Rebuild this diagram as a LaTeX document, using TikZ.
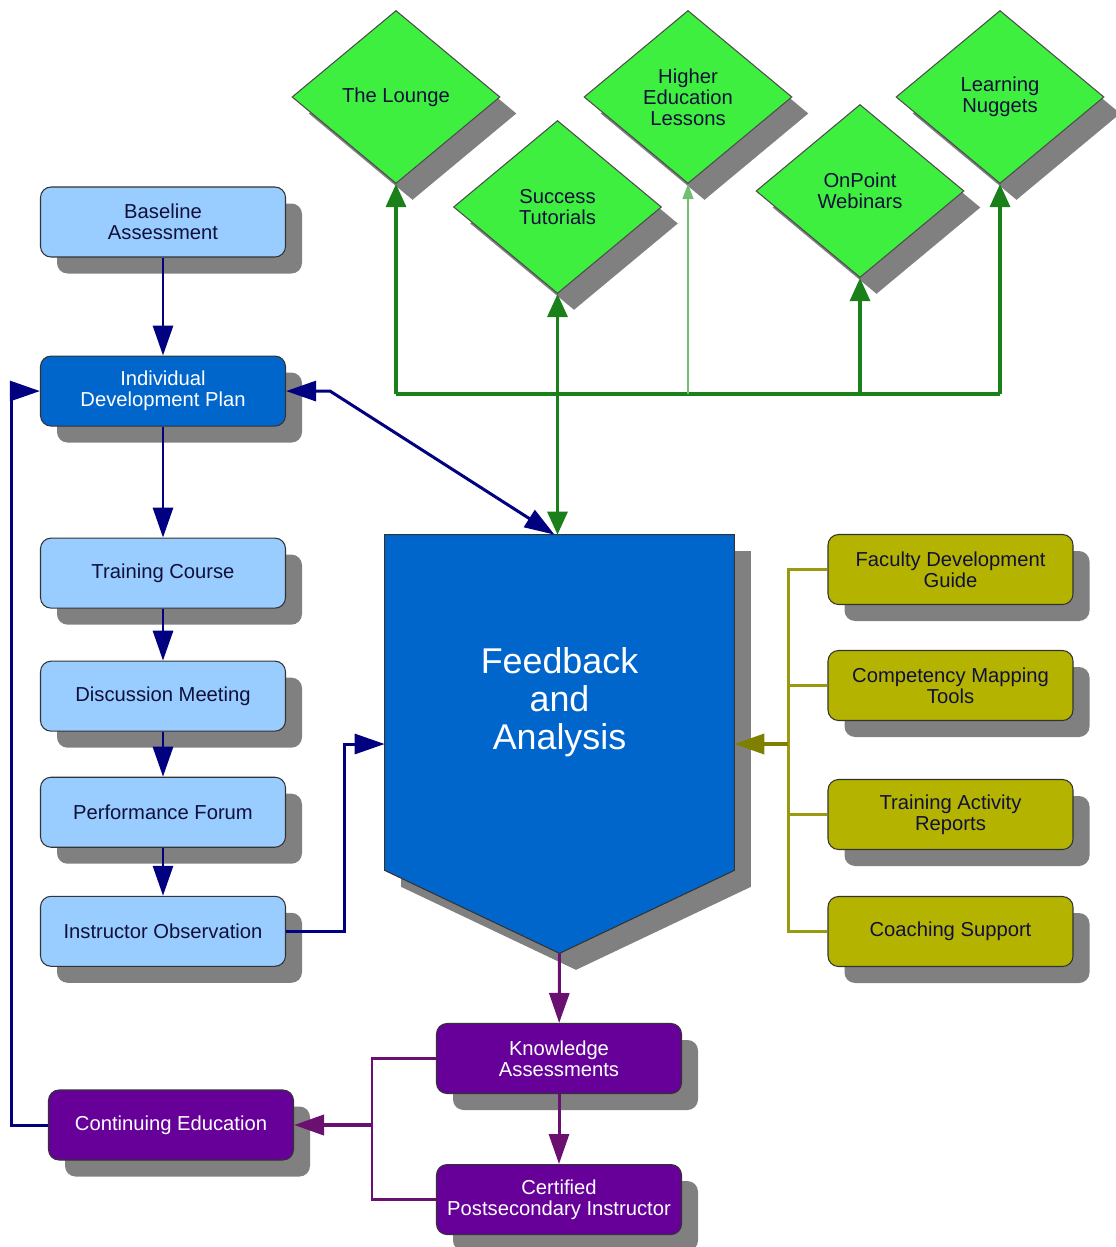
\documentclass[tikz,border=0pt]{standalone}
\usepackage{fontspec}
\setmainfont{Liberation Sans}
\usepackage{tikz}
\usetikzlibrary{arrows.meta,positioning,shapes.geometric,shadows,backgrounds,calc}
\definecolor{pale}{HTML}{99CCFF}
\definecolor{core}{HTML}{0066CC}
\definecolor{navy}{HTML}{000080}
\definecolor{leaf}{HTML}{3FEF3F}
\definecolor{dgreen}{HTML}{1A801A}
\definecolor{lgreen}{HTML}{72BE72}
\definecolor{olive}{HTML}{B4B400}
\definecolor{ocol}{HTML}{9A9A10}
\definecolor{odark}{HTML}{808000}
\definecolor{plum}{HTML}{660099}
\definecolor{pcol}{HTML}{6A1070}
\definecolor{shade}{HTML}{808080}
\definecolor{ink}{HTML}{10103A}
\tikzset{
  ftip/.tip={Triangle[length=6mm, width=4mm]},
  gtip/.tip={Triangle[length=4.6mm, width=4mm]},
  shd/.style={drop shadow={shadow xshift=0.33cm, shadow yshift=-0.33cm, fill=shade, opacity=1}},
  box/.style={draw=black!80, line width=0.6pt, rounded corners=6pt, align=center, shd,
    minimum width=4.9cm, minimum height=1.4cm, inner sep=2pt, font=\fontsize{11.5}{12}\selectfont},
  lbox/.style={box, fill=pale, text=ink},
  obox/.style={box, fill=olive, text=ink},
  pbox/.style={box, fill=plum, text=white},
  res/.style={diamond, draw=black!70, line width=0.6pt, fill=leaf, shd, align=center, text=ink,
    minimum width=4.16cm, minimum height=3.46cm, inner sep=0pt, font=\fontsize{11.5}{12}\selectfont},
  fbbox/.style={minimum width=6.98cm, minimum height=6.7cm, align=center, text=white,
    font=\fontsize{20.4}{21.5}\selectfont},
  nav/.style={-{ftip}, navy, line width=1.7pt},
  gline/.style={dgreen, line width=1.8pt},
  garrow/.style={-{gtip}, gline},
  olink/.style={ocol, line width=1.2pt},
  oarrow/.style={-{ftip}, odark, line width=2.2pt},
  plink/.style={pcol, line width=1.3pt},
  parrow/.style={-{ftip}, pcol, line width=1.7pt},
}

\begin{document}
\begin{tikzpicture}
  \useasboundingbox (0,0) rectangle (22.3,-24.94);

  % left column
  \node[lbox] (base) at (3.26,-4.44) {Baseline\\Assessment};
  \node[box, fill=core, text=white, below=1.96cm of base] (idp) {Individual\\Development Plan};
  \node[lbox, below=2.22cm of idp] (train) {Training Course};
  \node[lbox, below=1.04cm of train] (disc) {Discussion Meeting};
  \node[lbox, below=0.9cm of disc] (perf) {Performance Forum};
  \node[lbox, below=0.96cm of perf] (obs) {Instructor Observation};

  % resources
  \node[res] (lounge) at (7.92,-1.94) {The Lounge};
  \node[res] (hel) at (13.76,-1.94) {Higher\\Education\\Lessons};
  \node[res] (nuggets) at (20.0,-1.94) {Learning\\Nuggets};
  \node[res] (tutor) at (11.15,-4.14) {Success\\Tutorials};
  \node[res] (webinar) at (17.2,-3.82) {OnPoint\\Webinars};

  % feedback
  \node[fbbox] (fb) at (11.19,-14.05) {Feedback\\and\\Analysis};
  \coordinate (fbtip) at ([yshift=-1.66cm]fb.south);
  \coordinate (fbin) at ([yshift=-0.83cm]fb.west);
  \coordinate (fbout) at ([yshift=-0.83cm]fb.east);
  \begin{scope}[on background layer]
    \filldraw[fill=core, draw=black!80, line width=0.6pt, shd] (fb.north west) -- (fb.north east) -- (fb.south east) -- (fbtip) -- (fb.south west) -- cycle;
  \end{scope}

  % tools
  \node[obox] (guide) at (19.01,-11.39) {Faculty Development\\Guide};
  \node[obox] (tools) at (19.01,-13.71) {Competency Mapping\\Tools};
  \node[obox] (reports) at (19.01,-16.29) {Training Activity\\Reports};
  \node[obox] (coach) at (19.01,-18.63) {Coaching Support};

  % outcomes
  \node[pbox] (know) at (11.18,-21.17) {Knowledge\\Assessments};
  \node[pbox, below=1.4cm of know] (cert) {Certified\\Postsecondary Instructor};
  \node[pbox] (cont) at (3.42,-22.5) {Continuing Education};

  \coordinate (bus) at (0,-7.88);
  \draw[gline] (lounge.south |- bus) -- (nuggets.south |- bus);
  \draw[garrow] (lounge.south |- bus) -- (lounge.south);
  \draw[-{Triangle[length=3mm, width=2.2mm]}, lgreen, line width=0.9pt] (hel.south |- bus) -- (hel.south);
  \draw[garrow] (webinar.south |- bus) -- (webinar.south);
  \draw[garrow] (nuggets.south |- bus) -- (nuggets.south);
  \draw[{gtip}-{gtip}, gline] (tutor.south) -- (tutor.south |- fb.north);

  \draw[nav] (base) -- (idp);
  \draw[nav] (idp) -- (train);
  \draw[nav] (train) -- (disc);
  \draw[nav] (disc) -- (perf);
  \draw[nav] (perf) -- (obs);
  \draw[nav, {ftip}-{ftip}] (idp.east) -- ++(0.88,0) -- ([xshift=-0.1cm]fb.north);
  \draw[nav] (obs.east) -- ++(1.16,0) |- (fbin);
  \draw[nav] (cont.west) -- ++(-0.72,0) |- (idp.west);

  \draw[olink] (guide.west) -- ++(-0.78,0) coordinate (otop) |- (coach.west);
  \draw[olink] (tools.west) -- (tools.west -| otop);
  \draw[olink] (reports.west) -- (reports.west -| otop);
  \draw[oarrow] (fbout -| otop) -- (fbout);

  \draw[parrow] (fbtip) -- (know);
  \draw[parrow] (know) -- (cert);
  \draw[plink] (know.west) -- ++(-1.28,0) coordinate (pk) |- (cert.west);
  \draw[parrow, line width=2.2pt] (pk |- cont.east) -- (cont.east);
\end{tikzpicture}
\end{document}
